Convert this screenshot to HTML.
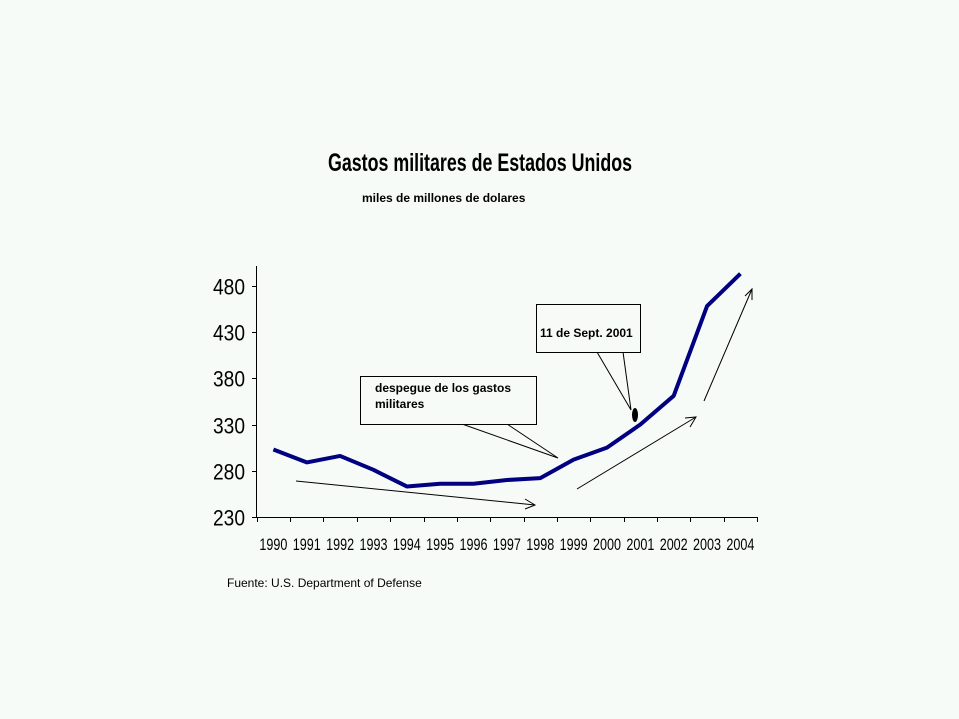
<!DOCTYPE html>
<html><head><meta charset="utf-8"><style>
html,body{margin:0;padding:0;background:#f7fbf7;}
svg{display:block;font-family:"Liberation Sans",sans-serif;}
</style></head><body>
<svg width="959" height="719" viewBox="0 0 959 719">
<rect width="959" height="719" fill="#f7fbf7"/>
<text x="328" y="171" font-size="25" font-weight="bold" textLength="304" lengthAdjust="spacingAndGlyphs">Gastos militares de Estados Unidos</text>
<text x="362" y="202" font-size="12" font-weight="bold">miles de millones de dolares</text>
<text x="227" y="587" font-size="12">Fuente: U.S. Department of Defense</text>
<g id="axes"></g>
<g id="marks"></g>
<g fill="none" stroke="#000" stroke-width="1">
<polyline points="296,481 535,505"/>
<polyline points="525,499 535,505 525,509"/>
<polyline points="577,489 696,417"/>
<polyline points="685,418 696,417 690,427"/>
<polyline points="704,401 752,289"/>
<polyline points="745,296 752,289 752,300"/>
<polyline points="462,424 558,458 507,424"/>
<polyline points="597,352 631,410 623,352"/>
</g>
<rect x="360.5" y="376.5" width="176" height="48" fill="#f7fbf7" stroke="#000"/>
<text x="375" y="392" font-size="12" font-weight="bold">despegue de los gastos</text>
<text x="375" y="408" font-size="12" font-weight="bold">militares</text>
<rect x="536.5" y="304.5" width="104" height="48" fill="#f7fbf7" stroke="#000"/>
<text x="540" y="337" font-size="12" font-weight="bold">11 de Sept. 2001</text>
<ellipse cx="635" cy="415" rx="3" ry="7" fill="#000"/>
</svg>
<script>
const years=["1990","1991","1992","1993","1994","1995","1996","1997","1998","1999","2000","2001","2002","2003","2004"];
const spending=[303,289,296,281,263,266,266,270,272,292,305,330,361,458,493];
const yTicks=[230,280,330,380,430,480];
const NS="http://www.w3.org/2000/svg";
const x0=256.7,cw=33.36,yBase=517,yPx=0.925,yMin=230;
function xPos(i){return x0+cw*(i+0.5);}
function yPos(v){return yBase-(v-yMin)*yPx;}
const axes=document.getElementById('axes');
function mk(tag,attrs,parent){const e=document.createElementNS(NS,tag);for(const k in attrs)e.setAttribute(k,attrs[k]);parent.appendChild(e);return e;}
let yl=mk('line',{x1:256.5,y1:266,x2:256.5,y2:518,stroke:'#000'},axes);


let xl=mk('line',{x1:256,y1:517.5,x2:757,y2:517.5,stroke:'#000'},axes);


yTicks.forEach(v=>{
 const y=Math.round(yPos(v))+0.5;
 mk('line',{x1:252,y1:y,x2:256,y2:y,stroke:'#000'},axes);
 const t=mk('text',{x:245,y:y+8,'font-size':22,'text-anchor':'end',textLength:32,lengthAdjust:'spacingAndGlyphs'},axes);
 t.textContent=v;
 
 
});
for(let i=0;i<=years.length;i++){
 const x=Math.round(x0+cw*i)+0.5;
 mk('line',{x1:x,y1:517,x2:x,y2:522,stroke:'#000'},axes);
}
years.forEach((yr,i)=>{
 const t=mk('text',{x:xPos(i),y:550,'font-size':17,'text-anchor':'middle',textLength:28,lengthAdjust:'spacingAndGlyphs'},axes);
 t.textContent=yr;
 
 
});
const marks=document.getElementById('marks');
const pl=mk('polyline',{points:spending.map((v,i)=>xPos(i)+','+yPos(v)).join(' '),fill:'none',stroke:'#000080','stroke-width':4,'stroke-linejoin':'round'},marks);


</script>
</body></html>
